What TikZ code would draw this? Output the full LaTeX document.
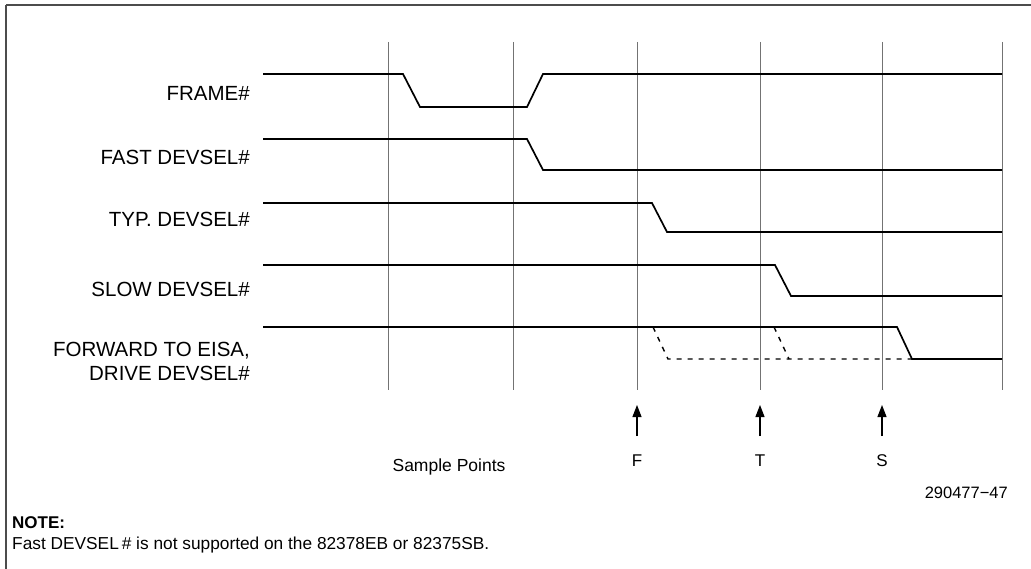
\documentclass[tikz,border=0pt]{standalone}
\usepackage{fontspec}
\setmainfont{Liberation Sans}
\usetikzlibrary{arrows.meta}
\begin{document}
\begin{tikzpicture}[x=1pt,y=-1pt,
  frameline/.style={line width=2pt,draw=black!70},
  gridline/.style={line width=1pt,draw=black!55},
  sig/.style={line width=1.7pt,draw=black,line join=miter},
  dsig/.style={line width=1.4pt,draw=black,dash pattern=on 5pt off 6pt},
  lbl/.style={anchor=base east,inner sep=0pt,font=\fontsize{20.5}{24}\selectfont},
  pt/.style={anchor=base,inner sep=0pt,font=\fontsize{17}{20}\selectfont},
  samparrow/.style={line width=1.1pt,-{Triangle[length=12pt,width=9pt]}}]
\useasboundingbox (0,0) rectangle (1031,569);
% frame (top and left edges)
\draw[frameline] (6,5) -- (1031,5);
\draw[frameline] (6,5) -- (6,569);
% grid
\foreach \x in {388,513,637,760,882,1002}
  \draw[gridline] (\x,42) -- (\x,390);
% labels
\node[lbl] (frame) at (250,101) {FRAME\#};
\node[lbl] (fast) at (250,165) {FAST DEVSEL\#};
\node[lbl] (typ) at (250,227) {TYP. DEVSEL\#};
\node[lbl] (slow) at (250,297) {SLOW DEVSEL\#};
\node[lbl] (fwda) at (250,356) {FORWARD TO EISA,};
\node[lbl] (fwdb) at (250,380) {DRIVE DEVSEL\#};
% waveforms
\draw[sig] (263,74) -- (403,74) -- (420,107) -- (527,107) -- (543,74) -- (1002,74);
\draw[sig] (263,139) -- (527,139) -- (543,170) -- (1002,170);
\draw[sig] (263,203) -- (652,203) -- (667,232) -- (1002,232);
\draw[sig] (263,265) -- (775,265) -- (791,296) -- (1002,296);
\draw[sig] (263,327) -- (897,327) -- (912,359) -- (1002,359);
\draw[dsig] (653,327) -- (668,359) -- (912,359);
\draw[dsig] (774,327) -- (789,359);
% sample points
\node[pt] (F) at (637,466) {F};
\node[pt] (T) at (760,466) {T};
\node[pt] (S) at (882,466) {S};
\coordinate (Ftip) at (637,405);
\coordinate (Ttip) at (760,405);
\coordinate (Stip) at (882,405);
\draw[samparrow] (637,436) -- (Ftip);
\draw[samparrow] (760,436) -- (Ttip);
\draw[samparrow] (882,436) -- (Stip);
\node[anchor=base,inner sep=0pt,font=\fontsize{17.5}{21}\selectfont] (sp) at (449,471) {Sample Points};
\node[anchor=base east,inner sep=0pt,font=\fontsize{16.5}{20}\selectfont] (num) at (1008,498) {290477−47};
% note
\node[anchor=base west,inner sep=0pt,font=\fontsize{17}{20}\selectfont\bfseries] (note) at (12,528) {NOTE:};
\node[anchor=base west,inner sep=0pt,font=\fontsize{17.3}{20}\selectfont] (notetext) at (12,549) {Fast DEVSEL\,\# is not supported on the 82378EB or 82375SB.};
\end{tikzpicture}
\end{document}
